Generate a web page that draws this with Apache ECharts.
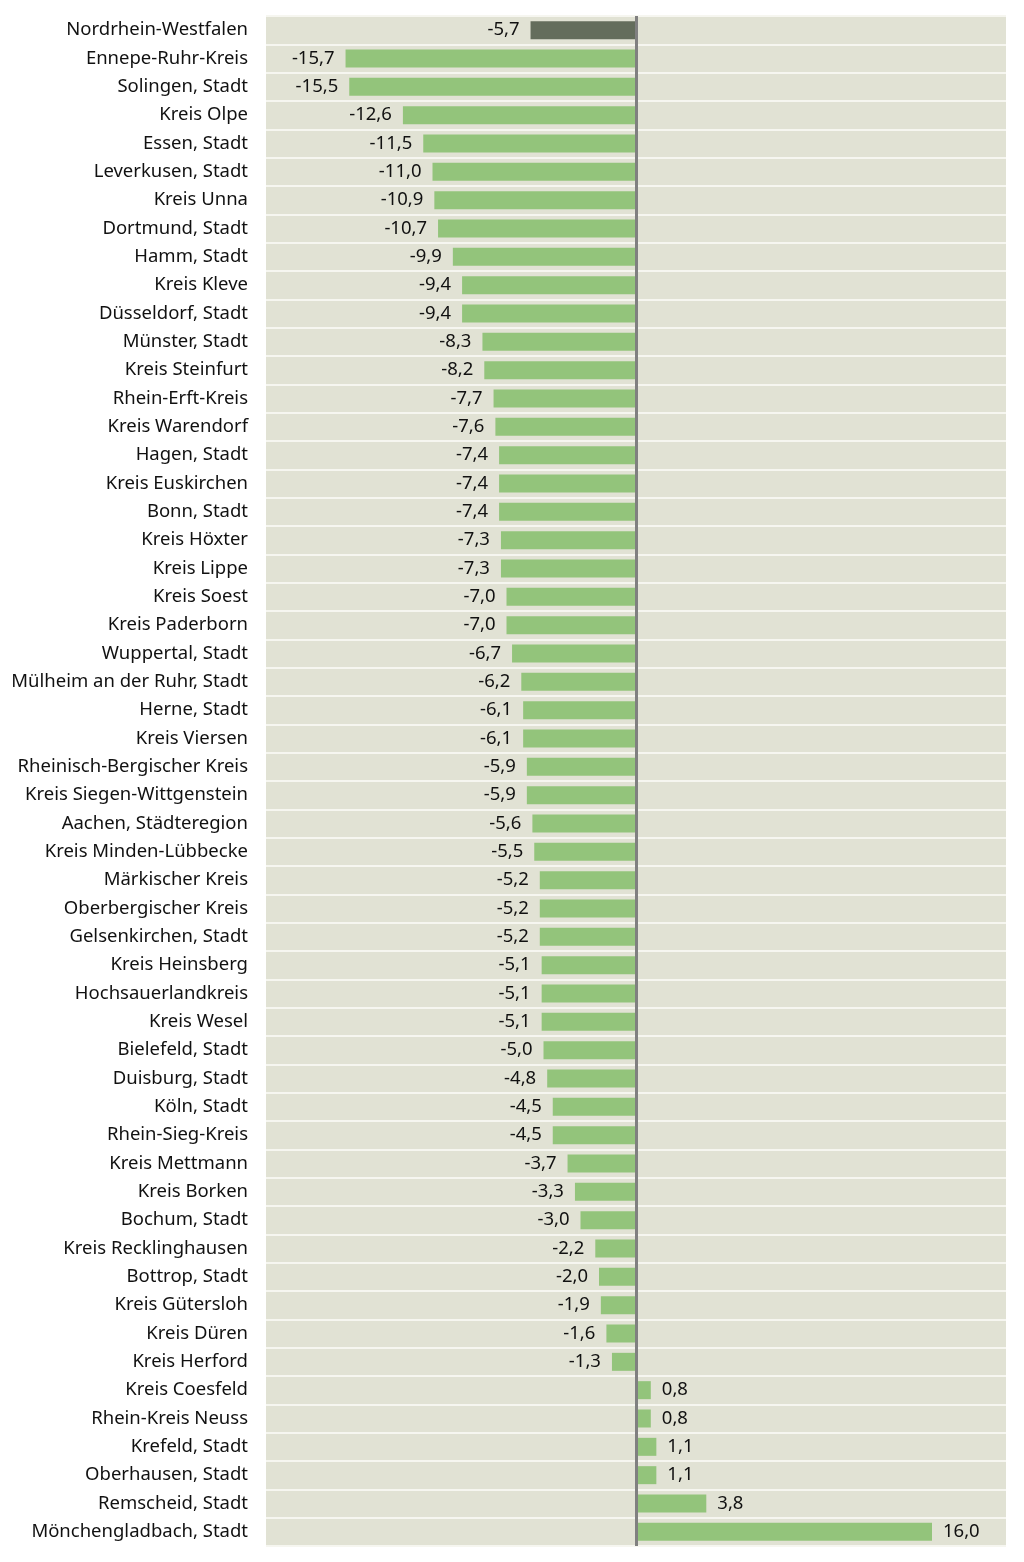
<!DOCTYPE html>
<html><head><meta charset="utf-8">
<script src="https://cdn.jsdelivr.net/npm/echarts@6/dist/echarts.min.js"></script>
<style>html,body{margin:0;padding:0;background:#fff}#c{width:1024px;height:1562px}</style>
</head><body><div id="c"></div>
<script>
const categories = ["Nordrhein-Westfalen","Ennepe-Ruhr-Kreis","Solingen, Stadt","Kreis Olpe","Essen, Stadt","Leverkusen, Stadt","Kreis Unna","Dortmund, Stadt","Hamm, Stadt","Kreis Kleve","Düsseldorf, Stadt","Münster, Stadt","Kreis Steinfurt","Rhein-Erft-Kreis","Kreis Warendorf","Hagen, Stadt","Kreis Euskirchen","Bonn, Stadt","Kreis Höxter","Kreis Lippe","Kreis Soest","Kreis Paderborn","Wuppertal, Stadt","Mülheim an der Ruhr, Stadt","Herne, Stadt","Kreis Viersen","Rheinisch-Bergischer Kreis","Kreis Siegen-Wittgenstein","Aachen, Städteregion","Kreis Minden-Lübbecke","Märkischer Kreis","Oberbergischer Kreis","Gelsenkirchen, Stadt","Kreis Heinsberg","Hochsauerlandkreis","Kreis Wesel","Bielefeld, Stadt","Duisburg, Stadt","Köln, Stadt","Rhein-Sieg-Kreis","Kreis Mettmann","Kreis Borken","Bochum, Stadt","Kreis Recklinghausen","Bottrop, Stadt","Kreis Gütersloh","Kreis Düren","Kreis Herford","Kreis Coesfeld","Rhein-Kreis Neuss","Krefeld, Stadt","Oberhausen, Stadt","Remscheid, Stadt","Mönchengladbach, Stadt"];
const values = [-5.7,-15.7,-15.5,-12.6,-11.5,-11.0,-10.9,-10.7,-9.9,-9.4,-9.4,-8.3,-8.2,-7.7,-7.6,-7.4,-7.4,-7.4,-7.3,-7.3,-7.0,-7.0,-6.7,-6.2,-6.1,-6.1,-5.9,-5.9,-5.6,-5.5,-5.2,-5.2,-5.2,-5.1,-5.1,-5.1,-5.0,-4.8,-4.5,-4.5,-3.7,-3.3,-3.0,-2.2,-2.0,-1.9,-1.6,-1.3,0.8,0.8,1.1,1.1,3.8,16.0];
const highlight = "Nordrhein-Westfalen";

const FONT = "Noto Sans";
const fmt = v => v.toFixed(1).replace('.', ',');
const data = values.map((v, i) => ({
  value: v,
  itemStyle: { color: categories[i] === highlight ? '#646d5c' : '#93c47b' },
  label: { position: v < 0 ? 'left' : 'right' }
}));

const chart = echarts.init(document.getElementById('c'));
chart.setOption({
  animation: false,
  grid: { left: 266, right: 18, top: 16, bottom: 16, show: true, backgroundColor: '#e1e2d4', borderWidth: 0 },
  xAxis: { type: 'value', min: -20, max: 20, show: false },
  yAxis: {
    type: 'category', data: categories, inverse: true,
    axisLine: { show: false }, axisTick: { show: false },
    axisLabel: { color: '#111', fontSize: 18.5, fontFamily: FONT, margin: 18, padding: [5, 0, 0, 0] },
    splitLine: { show: true, lineStyle: { color: '#f6f6f0', width: 2 } }
  },
  series: [{
    type: 'bar', data: data, barWidth: 18,
    label: { show: true, color: '#111', fontSize: 18.5, fontFamily: FONT, distance: 11, padding: [5, 0, 0, 0], formatter: p => fmt(p.value) },
    markLine: {
      silent: true, symbol: 'none', label: { show: false },
      lineStyle: { color: '#808080', width: 3, type: 'solid' },
      data: [{ xAxis: 0 }]
    }
  }]
});
</script></body></html>
